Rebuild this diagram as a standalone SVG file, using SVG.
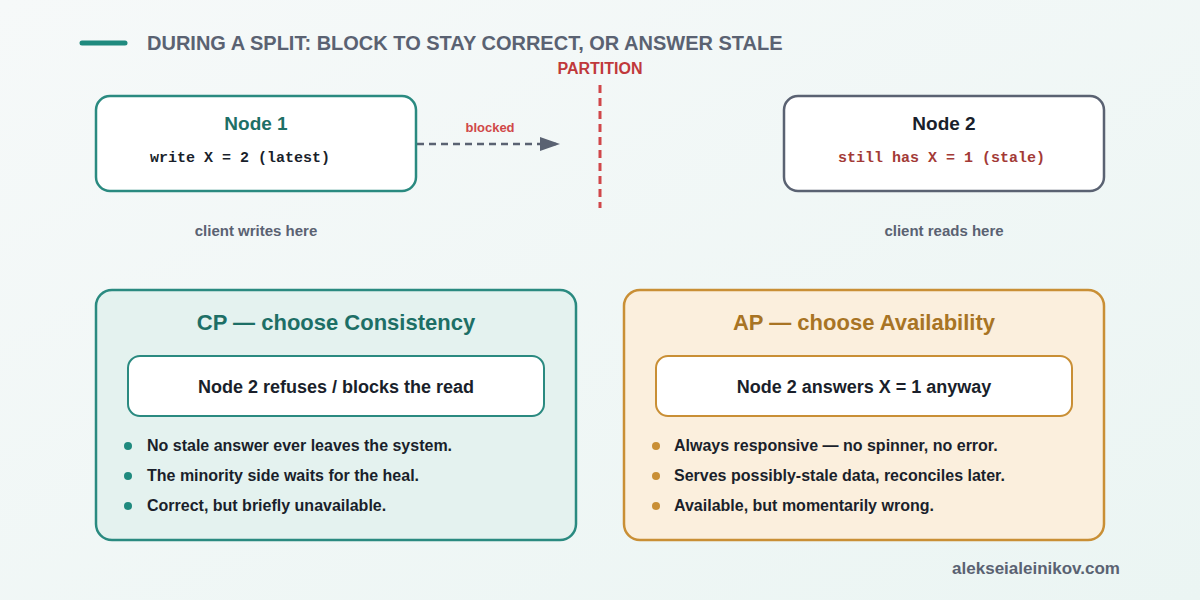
<svg xmlns="http://www.w3.org/2000/svg" width="1200" height="600" viewBox="0 0 1200 600">
<defs>
<linearGradient id="bg" x1="0" y1="0" x2="1" y2="1">
<stop offset="0" stop-color="#f6f9f9"/>
<stop offset="1" stop-color="#ebf5f3"/>
</linearGradient>
<marker id="arr" markerWidth="20" markerHeight="14" refX="19" refY="7" orient="auto" markerUnits="userSpaceOnUse" viewBox="0 0 20 14">
<path d="M0,0 L20,7 L0,14 z" fill="#5a6272"/>
</marker>
<style>
.sans{font-family:"Liberation Sans",Arial,sans-serif;font-weight:bold}
.mono{font-family:"Liberation Mono","Courier New",monospace;font-weight:bold;font-size:15px}
.node{fill:#ffffff;stroke-width:2.5}
.gray{fill:#5a6272}
.dark{fill:#1a1f2b}
.bul{font-size:16px;fill:#1a1f2b}
</style>
</defs>
<rect width="1200" height="600" fill="url(#bg)"/>
<g id="title">
<line x1="82" y1="43" x2="125" y2="43" stroke="#1f8a7e" stroke-width="5" stroke-linecap="round"/>
<text x="147" y="50" class="sans gray" font-size="20">DURING A SPLIT: BLOCK TO STAY CORRECT, OR ANSWER STALE</text>
</g>
<g id="partition">
<text x="600" y="74" class="sans" font-size="16" fill="#c0393b" text-anchor="middle">PARTITION</text>
<line x1="600" y1="85" x2="600" y2="208" stroke="#d0474a" stroke-width="3" stroke-dasharray="8 5"/>
</g>
<g id="connectors">
<line x1="417" y1="144" x2="559" y2="144" stroke="#5a6272" stroke-width="2.5" stroke-dasharray="7 5" marker-end="url(#arr)"/>
<text x="490" y="132" class="sans" font-size="13" fill="#d04848" text-anchor="middle">blocked</text>
</g>
<g id="node1">
<rect x="96" y="96" width="320" height="95" rx="14" class="node" stroke="#2a8a80"/>
<text x="256" y="130" class="sans" font-size="19" fill="#1d6f66" text-anchor="middle">Node 1</text>
<text x="150" y="162" class="mono" fill="#1a1f2b">write X = 2 (latest)</text>
<text x="256" y="236" class="sans gray" font-size="15" text-anchor="middle">client writes here</text>
</g>
<g id="node2">
<rect x="784" y="96" width="320" height="95" rx="14" class="node" stroke="#5a6272"/>
<text x="944" y="130" class="sans dark" font-size="19" text-anchor="middle">Node 2</text>
<text x="838" y="162" class="mono" fill="#a33a36">still has X = 1 (stale)</text>
<text x="944" y="236" class="sans gray" font-size="15" text-anchor="middle">client reads here</text>
</g>
<g id="cp">
<rect x="96" y="290" width="480" height="250" rx="16" fill="#e4f2ef" stroke="#2a8a80" stroke-width="2.5"/>
<text x="336" y="330" class="sans" font-size="22" fill="#1d6f66" text-anchor="middle">CP — choose Consistency</text>
<rect x="128" y="356" width="416" height="60" rx="12" fill="#ffffff" stroke="#2a8a80" stroke-width="2"/>
<text x="336" y="393" class="sans dark" font-size="18" text-anchor="middle">Node 2 refuses / blocks the read</text>
<circle cx="128" cy="446" r="4" fill="#1f8a7e"/>
<circle cx="128" cy="476" r="4" fill="#1f8a7e"/>
<circle cx="128" cy="506" r="4" fill="#1f8a7e"/>
<text x="147" y="451" class="sans bul">No stale answer ever leaves the system.</text>
<text x="147" y="481" class="sans bul">The minority side waits for the heal.</text>
<text x="147" y="511" class="sans bul">Correct, but briefly unavailable.</text>
</g>
<g id="ap">
<rect x="624" y="290" width="480" height="250" rx="16" fill="#fbefdd" stroke="#c98f35" stroke-width="2.5"/>
<text x="864" y="330" class="sans" font-size="22" fill="#a87424" text-anchor="middle">AP — choose Availability</text>
<rect x="656" y="356" width="416" height="60" rx="12" fill="#ffffff" stroke="#c98f35" stroke-width="2"/>
<text x="864" y="393" class="sans dark" font-size="18" text-anchor="middle">Node 2 answers X = 1 anyway</text>
<circle cx="656" cy="446" r="4" fill="#c98f35"/>
<circle cx="656" cy="476" r="4" fill="#c98f35"/>
<circle cx="656" cy="506" r="4" fill="#c98f35"/>
<text x="674" y="451" class="sans bul">Always responsive — no spinner, no error.</text>
<text x="674" y="481" class="sans bul">Serves possibly-stale data, reconciles later.</text>
<text x="674" y="511" class="sans bul">Available, but momentarily wrong.</text>
</g>
<g id="footer">
<text x="1120" y="574" class="sans gray" font-size="17" text-anchor="end">alekseialeinikov.com</text>
</g>
</svg>
